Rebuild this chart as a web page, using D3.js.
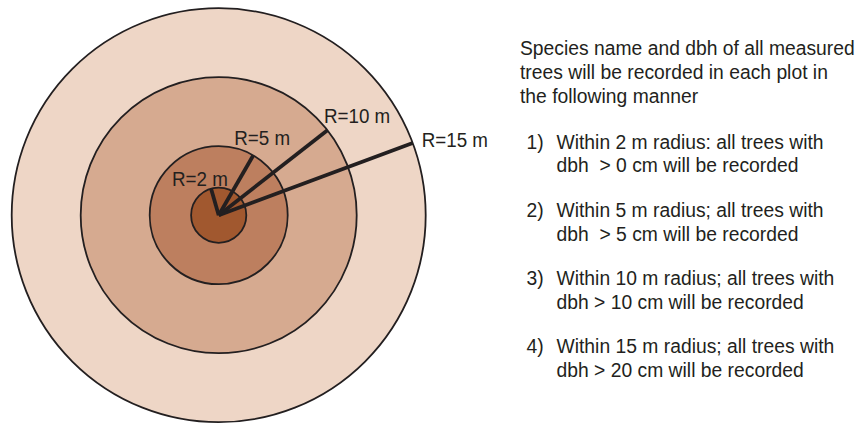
<!DOCTYPE html>
<html>
<head>
<meta charset="utf-8">
<script src="https://cdn.jsdelivr.net/npm/d3@7/dist/d3.min.js"></script>
<style>
  html, body { margin: 0; padding: 0; background: #fff; }
  svg { display: block; }
  text { font-family: "Liberation Sans", Arial, Helvetica, sans-serif; fill: #231f20; white-space: pre; }
</style>
</head>
<body>
<svg id="chart" width="862" height="425"></svg>
<script>
// ---- data ----
const radii = [15, 10, 5, 2];                       // plot radii (m), outer to inner
const ringColors = ["#eed6c6", "#d6aa90", "#bd7f5f", "#a1582f"];
const radiusLabels = ["R=15 m", "R=10 m", "R=5 m", "R=2 m"];
const lineAngles = [69.6, 52, 30, -16];            // degrees clockwise from north
const headerLines = [
  "Species name and dbh of all measured",
  "trees will be recorded in each plot in",
  "the following manner"
];
const itemNumbers = ["1)", "2)", "3)", "4)"];
const itemLines = [
  ["Within 2 m radius: all trees with", "dbh  > 0 cm will be recorded"],
  ["Within 5 m radius; all trees with", "dbh  > 5 cm will be recorded"],
  ["Within 10 m radius; all trees with", "dbh > 10 cm will be recorded"],
  ["Within 15 m radius; all trees with", "dbh > 20 cm will be recorded"]
];

// ---- layout ----
const svg = d3.select("#chart");
const cx = 218.7, cy = 215.2;
const r = d3.scaleLinear().domain([0, 15]).range([0, 207]);
const labelPos = [[421.7, 146.5], [324, 122.5], [234.3, 144.5], [172, 186]];
const labelFont = 21, labelScale = 0.895;
const textFont = 21, textScale = 0.92;

const g = svg.append("g").attr("transform", `translate(${cx},${cy})`);

g.selectAll("circle.ring")
  .data(radii)
  .join("circle")
  .attr("class", "ring")
  .attr("r", d => r(d))
  .attr("fill", (d, i) => ringColors[i])
  .attr("stroke", "#231f20")
  .attr("stroke-width", 1.8);

g.selectAll("line.rad")
  .data(radii)
  .join("line")
  .attr("class", "rad")
  .attr("x1", 0).attr("y1", 0)
  .attr("x2", (d, i) => r(d) * Math.sin(lineAngles[i] * Math.PI / 180))
  .attr("y2", (d, i) => -r(d) * Math.cos(lineAngles[i] * Math.PI / 180))
  .attr("stroke", "#231f20")
  .attr("stroke-width", 3.8)
  .attr("stroke-linecap", "butt");

svg.selectAll("text.rlabel")
  .data(radiusLabels)
  .join("text")
  .attr("class", "rlabel")
  .attr("transform", (d, i) => `translate(${labelPos[i][0]},${labelPos[i][1]}) scale(${labelScale},1)`)
  .attr("font-size", labelFont)
  .text(d => d);

// ---- right-hand text ----
const headerX = 520, headerY0 = 55, lineStep = 23.8;
svg.selectAll("text.header")
  .data(headerLines)
  .join("text")
  .attr("class", "header")
  .attr("transform", (d, i) => `translate(${headerX},${headerY0 + i * lineStep}) scale(${textScale},1)`)
  .attr("font-size", textFont)
  .text(d => d);

const itemY0 = 148.5, itemStep = 68.3, numX = 526.5, itemX = 556.5;
itemNumbers.forEach((num, i) => {
  const y = itemY0 + i * itemStep;
  svg.append("text")
    .attr("transform", `translate(${numX},${y}) scale(${textScale},1)`)
    .attr("font-size", textFont)
    .text(num);
  itemLines[i].forEach((line, j) => {
    svg.append("text")
      .attr("transform", `translate(${itemX},${y + j * lineStep}) scale(${textScale},1)`)
      .attr("font-size", textFont)
      .text(line);
  });
});
</script>
</body>
</html>
